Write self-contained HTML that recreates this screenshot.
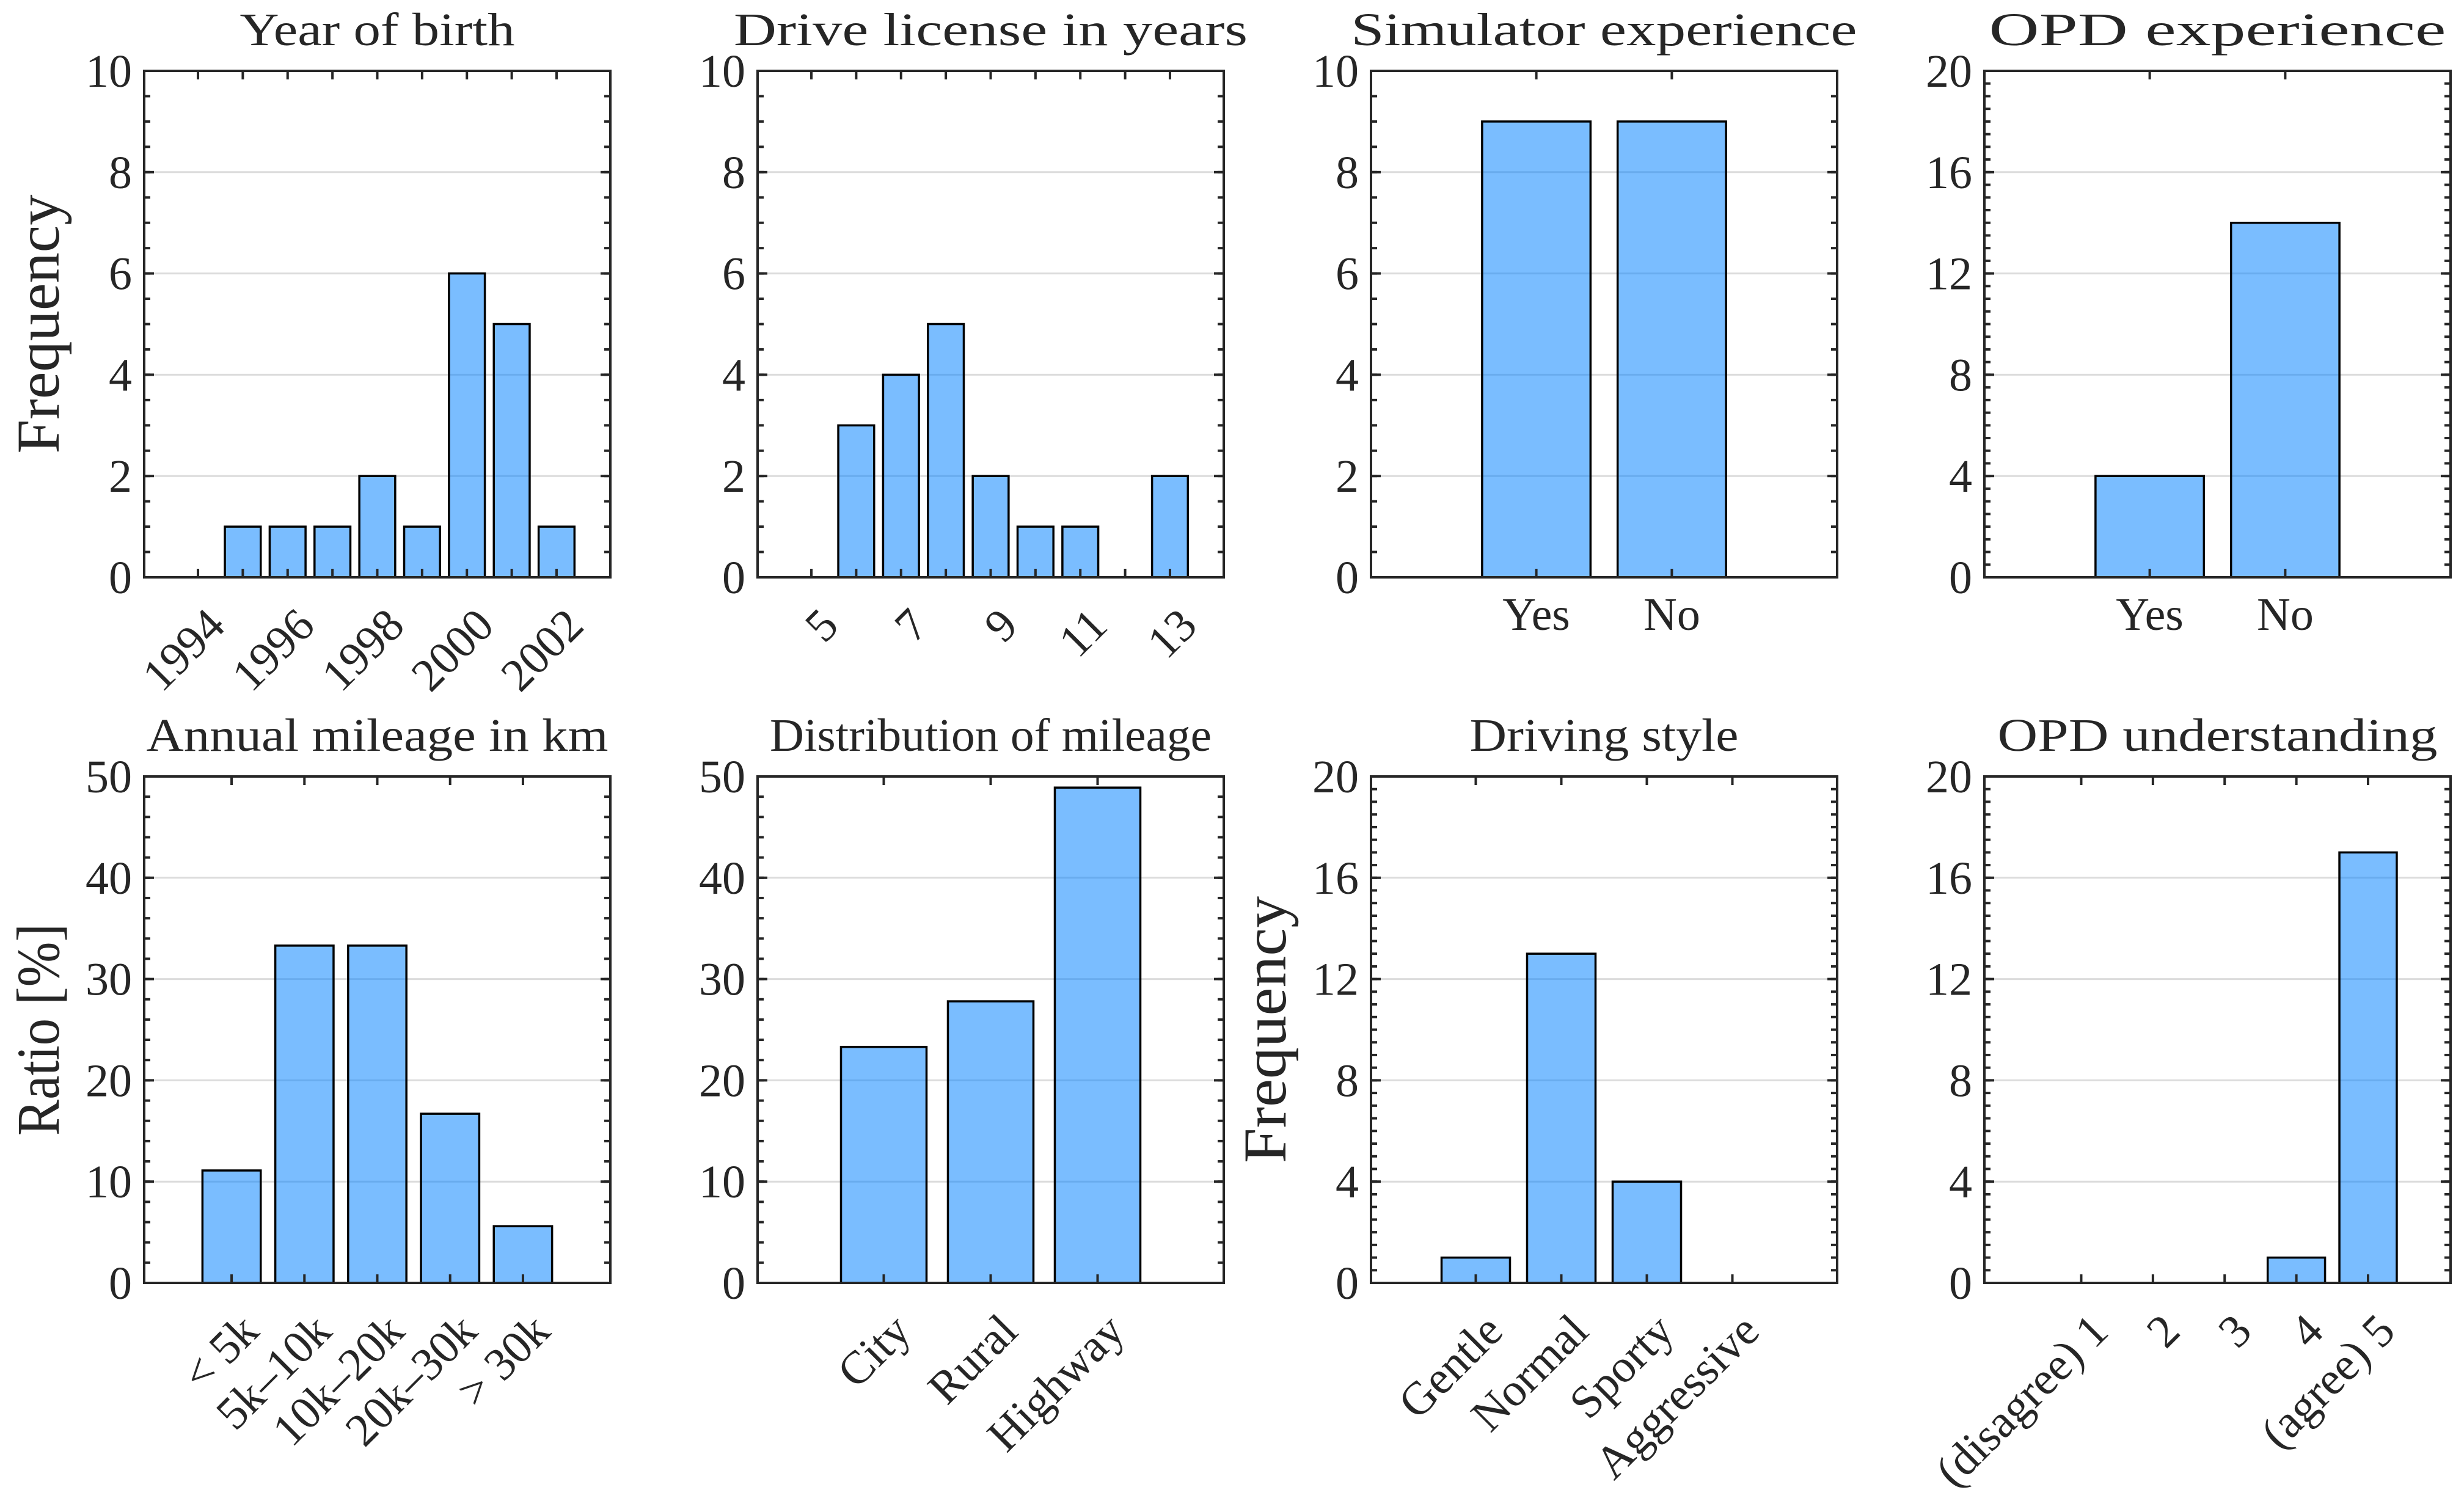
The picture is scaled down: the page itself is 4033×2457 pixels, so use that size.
<!DOCTYPE html>
<html><head><meta charset="utf-8"><style>
html,body{margin:0;padding:0;background:#fff}
svg{display:block}
text{font-family:"Liberation Serif",serif;fill:#262626}
</style></head><body>
<svg id="fig" width="4033" height="2457" viewBox="0 0 4033 2457" xmlns="http://www.w3.org/2000/svg"></svg>
<script>
// ---- data ----
const yearCats = [1995,1996,1997,1998,1999,2000,2001,2002];
const yearVals = [1,1,1,2,1,6,5,1];
const yearTicks = [1994,1995,1996,1997,1998,1999,2000,2001,2002];
const yearTickLabels = ["1994","","1996","","1998","","2000","","2002"];
const licCats = [6,7,8,9,10,11,13];
const licVals = [3,4,5,2,1,1,2];
const licTicks = [5,6,7,8,9,10,11,12,13];
const licTickLabels = ["5","","7","","9","","11","","13"];
const simCats = ["Yes","No"];
const simVals = [9,9];
const opdCats = ["Yes","No"];
const opdVals = [4,14];
const mileCats = ["< 5k","5k\u201310k","10k\u201320k","20k\u201330k","> 30k"];
const mileVals = [11.1,33.3,33.3,16.7,5.6];
const distCats = ["City","Rural","Highway"];
const distVals = [23.3,27.8,48.9];
const styleCats = ["Gentle","Normal","Sporty","Aggressive"];
const styleVals = [1,13,4,0];
const undCats = ["(disagree) 1","2","3","4","(agree) 5"];
const undVals = [0,0,0,1,17];
const yTicks10 = [0,2,4,6,8,10];
const yTicks20 = [0,4,8,12,16,20];
const yTicks50 = [0,10,20,30,40,50];

const NS = "http://www.w3.org/2000/svg";
const svg = document.getElementById('fig');
function mk(tag, attrs, parent){const e=document.createElementNS(NS,tag);for(const k in attrs)e.setAttribute(k,attrs[k]);(parent||svg).appendChild(e);return e;}

const lefts=[236,1240,2244,3248], tops=[116,1271], W=763, H=829;

function panel(o){
  const L=lefts[o.col], T=tops[o.row], B=T+H, R=L+W;
  const g=mk('g',{});
  
  
  const xs=v=>L+(v-o.xmin)/(o.xmax-o.xmin)*W;
  const ys=v=>B-(v/o.ymax)*H;
  o.yticks.forEach(t=>{ if(t>0&&t<o.ymax){const l=mk('line',{x1:L,x2:R,y1:ys(t),y2:ys(t),stroke:'#dcdcdc','stroke-width':3},g);
    
    }});
  o.pos.forEach((p,i)=>{ const v=o.vals[i]; if(v<=0) return;
    const x0=xs(p-0.4), x1=xs(p+0.4);
    const r=mk('rect',{x:x0,y:ys(v),width:x1-x0,height:B-ys(v),fill:'#0080ff','fill-opacity':0.52,stroke:'#000','stroke-width':3.5},g);
    
    
  });
  for(let v=0; v<=o.ymax+1e-9; v+=o.minor){
    mk('line',{x1:L,x2:L+10,y1:ys(v),y2:ys(v),stroke:'#262626','stroke-width':4},g);
    mk('line',{x1:R,x2:R-10,y1:ys(v),y2:ys(v),stroke:'#262626','stroke-width':4},g);
  }
  o.yticks.forEach(t=>{
    mk('line',{x1:L,x2:L+16,y1:ys(t),y2:ys(t),stroke:'#262626','stroke-width':4},g);
    mk('line',{x1:R,x2:R-16,y1:ys(t),y2:ys(t),stroke:'#262626','stroke-width':4},g);
    const tx=mk('text',{x:L-20,y:ys(t)+26,'text-anchor':'end','font-size':76},g);
    tx.textContent=t;
    
    
  });
  o.xticks.forEach((t,i)=>{
    const x=xs(t);
    mk('line',{x1:x,x2:x,y1:B,y2:B-14,stroke:'#262626','stroke-width':4},g);
    mk('line',{x1:x,x2:x,y1:T,y2:T+14,stroke:'#262626','stroke-width':4},g);
    const lab=o.xlabels[i]; if(!lab) return;
    let tx;
    if(o.rot){
      const ax=x+10, ay=B+45;
      tx=mk('text',{x:ax,y:ay,'text-anchor':'end','dominant-baseline':'hanging','font-size':76,transform:`rotate(-45 ${ax} ${ay})`},g);
    } else {
      tx=mk('text',{x:x,y:B+86,'text-anchor':'middle','font-size':76},g);
    }
    tx.textContent=lab;
    
    
  });
  const f=mk('rect',{x:L,y:T,width:W,height:H,fill:'none',stroke:'#262626','stroke-width':4},g);
  
  
  const tt=mk('text',{x:L+W/2,y:T-42,'text-anchor':'middle','font-size':76,textLength:o.tw,lengthAdjust:'spacingAndGlyphs',fill:'#000'},g);
  tt.textContent=o.title;
  
  
  if(o.ylabel){
    const cx=L-140, cy=T+H/2;
    const yl=mk('text',{x:cx,y:cy,'text-anchor':'middle','font-size':100,textLength:o.yw,lengthAdjust:'spacingAndGlyphs',transform:`rotate(-90 ${cx} ${cy})`},g);
    yl.textContent=o.ylabel;
    
    
  }
}
const idx=a=>a.map((_,i)=>i+1);
panel({name:'year-of-birth-chart',col:0,row:0,title:'Year of birth',tw:450,pos:yearCats,vals:yearVals,xmin:1992.8,xmax:2003.2,xticks:yearTicks,xlabels:yearTickLabels,rot:true,ymax:10,yticks:yTicks10,minor:0.5,ylabel:'Frequency',yw:424});
panel({name:'drive-license-chart',col:1,row:0,title:'Drive license in years',tw:841,pos:licCats,vals:licVals,xmin:3.8,xmax:14.2,xticks:licTicks,xlabels:licTickLabels,rot:true,ymax:10,yticks:yTicks10,minor:0.5});
panel({name:'simulator-experience-chart',col:2,row:0,title:'Simulator experience',tw:828,pos:idx(simCats),vals:simVals,xmin:-0.22,xmax:3.22,xticks:idx(simCats),xlabels:simCats,rot:false,ymax:10,yticks:yTicks10,minor:0.5});
panel({name:'opd-experience-chart',col:3,row:0,title:'OPD experience',tw:748,pos:idx(opdCats),vals:opdVals,xmin:-0.22,xmax:3.22,xticks:idx(opdCats),xlabels:opdCats,rot:false,ymax:20,yticks:yTicks20,minor:0.5});
panel({name:'annual-mileage-chart',col:0,row:1,title:'Annual mileage in km',tw:756,pos:idx(mileCats),vals:mileVals,xmin:-0.2,xmax:6.2,xticks:idx(mileCats),xlabels:mileCats,rot:true,ymax:50,yticks:yTicks50,minor:2,ylabel:'Ratio [%]',yw:347});
panel({name:'mileage-distribution-chart',col:1,row:1,title:'Distribution of mileage',tw:723,pos:idx(distCats),vals:distVals,xmin:-0.18,xmax:4.18,xticks:idx(distCats),xlabels:distCats,rot:true,ymax:50,yticks:yTicks50,minor:2});
panel({name:'driving-style-chart',col:2,row:1,title:'Driving style',tw:440,pos:idx(styleCats),vals:styleVals,xmin:-0.225,xmax:5.225,xticks:idx(styleCats),xlabels:styleCats,rot:true,ymax:20,yticks:yTicks20,minor:0.5,ylabel:'Frequency',yw:437});
panel({name:'opd-understanding-chart',col:3,row:1,title:'OPD understanding',tw:720,pos:idx(undCats),vals:undVals,xmin:-0.35,xmax:6.15,xticks:idx(undCats),xlabels:undCats,rot:true,ymax:20,yticks:yTicks20,minor:0.5});
</script>
</body></html>
